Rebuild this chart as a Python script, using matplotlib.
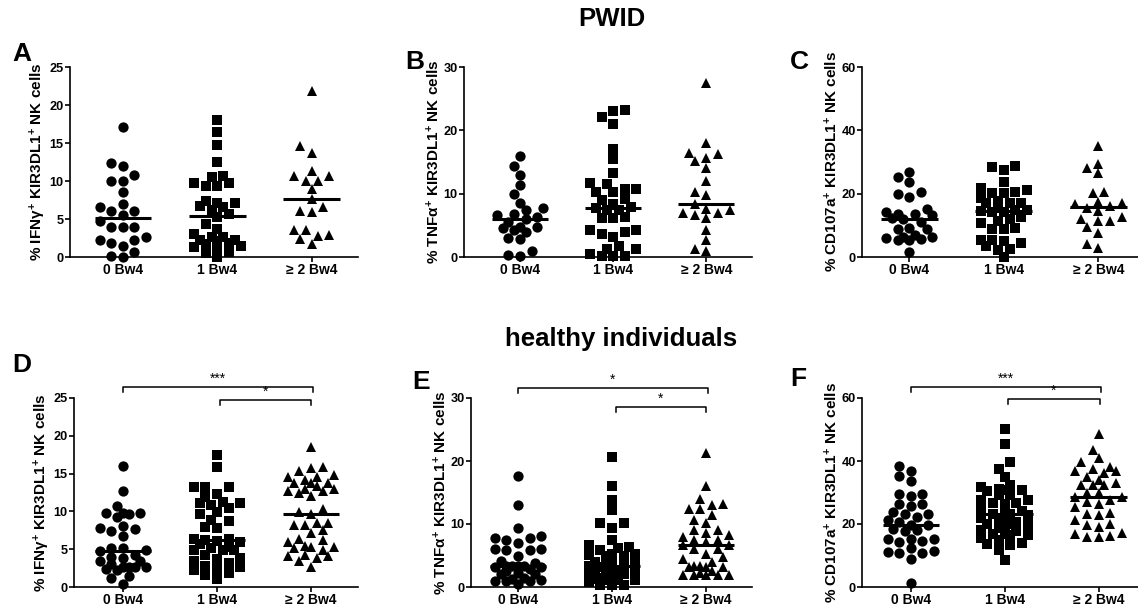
import numpy as np
import matplotlib
matplotlib.use("Agg")
import matplotlib.pyplot as plt

plt.rcParams['font.family'] = ['Liberation Sans', 'DejaVu Sans']
plt.rcParams['font.weight'] = 'bold'
plt.rcParams['mathtext.fontset'] = 'custom'
plt.rcParams['mathtext.rm'] = 'Liberation Sans:bold'
plt.rcParams['mathtext.it'] = 'Liberation Sans:bold'
plt.rcParams['mathtext.bf'] = 'Liberation Sans:bold'

groups = ['0 Bw4', '1 Bw4', '\u2265 2 Bw4']

# PWID
ifn_pwid_0 = [17.1, 12.4, 12.0, 10.8, 10.0, 10.0, 8.6, 7.0, 6.6, 6.1, 6.1, 5.5, 4.8, 4.0, 4.0, 4.0,
              2.6, 2.3, 2.3, 1.9, 1.4, 0.7, 0.1, 0.0]
ifn_pwid_1 = [18.0, 16.4, 14.7, 12.5, 10.7, 10.5, 9.8, 9.7, 9.3, 9.3, 7.4, 7.1, 7.1, 6.7, 6.6, 6.2,
              5.6, 5.2, 4.4, 3.7, 3.0, 2.6, 2.6, 2.3, 2.2, 2.1, 1.8, 1.7, 1.5, 1.3, 1.3, 0.7, 0.5, 0.0]
ifn_pwid_2 = [21.8, 14.6, 13.7, 11.3, 10.7, 10.7, 10.0, 10.0, 8.9, 7.6, 6.6, 6.0, 5.9, 3.6, 3.5,
              2.9, 2.7, 2.4, 1.7]

tnf_pwid_0 = [16.0, 14.4, 13.0, 11.4, 10.0, 8.6, 7.7, 7.4, 6.8, 6.6, 6.3, 6.0, 5.5, 4.8, 4.8, 4.6,
              4.2, 4.0, 3.0, 2.8, 1.0, 0.3, 0.1]
tnf_pwid_1 = [23.2, 23.1, 22.1, 21.0, 17.0, 15.4, 13.2, 11.7, 11.5, 10.7, 10.7, 10.3, 10.3, 9.2, 9.0,
              8.3, 7.9, 7.7, 7.5, 7.4, 6.3, 6.1, 6.1, 4.3, 4.2, 4.0, 3.6, 3.1, 1.8, 1.2, 1.2, 0.5,
              0.1, 0.1, 0.1]
tnf_pwid_2 = [27.5, 18.0, 16.4, 16.3, 15.6, 15.2, 14.1, 12.0, 10.3, 9.8, 8.3, 7.6, 7.4, 7.0, 6.9,
              6.6, 6.2, 4.3, 2.7, 1.2, 1.0]

cd_pwid_0 = [26.9, 25.4, 23.6, 20.4, 19.8, 19.0, 15.3, 14.3, 13.7, 13.5, 13.2, 12.2, 11.9, 11.1,
             9.3, 8.7, 8.7, 7.0, 6.3, 6.3, 6.0, 5.8, 5.5, 5.5, 1.6]
cd_pwid_1 = [28.7, 28.5, 27.5, 23.8, 21.9, 21.1, 20.4, 20.3, 20.1, 18.5, 17.7, 17.2, 16.9, 16.9,
             15.5, 14.8, 14.8, 14.6, 14.3, 14.3, 12.7, 12.0, 11.4, 10.8, 9.3, 9.0, 8.8, 5.5, 5.3,
             5.1, 4.4, 3.5, 2.6, 2.3, 0.0]
cd_pwid_2 = [35.2, 29.4, 28.0, 26.4, 20.4, 20.1, 17.4, 17.1, 16.7, 16.1, 15.5, 14.6, 12.7, 12.1,
             11.4, 11.4, 9.5, 7.7, 4.2, 3.0]

# healthy individuals
ifn_hi_0 = [16.0, 12.7, 10.7, 9.8, 9.8, 9.8, 9.6, 9.2, 8.1, 7.8, 7.7, 7.4, 6.8, 5.2, 5.2, 4.9, 4.7,
            4.2, 4.0, 3.9, 3.5, 3.4, 3.0, 2.6, 2.6, 2.6, 2.6, 2.4, 2.2, 1.5, 1.2, 0.4]
ifn_hi_1 = [17.4, 15.9, 13.2, 13.2, 13.2, 12.3, 11.9, 11.2, 11.1, 11.1, 10.9, 10.5, 9.9, 9.6, 8.9,
            8.7, 7.9, 7.8, 6.3, 6.3, 6.2, 6.1, 6.0, 5.7, 5.3, 5.1, 4.9, 4.9, 4.9, 4.2, 3.9, 3.7,
            3.4, 3.2, 2.8, 2.6, 2.4, 2.2, 1.9, 1.6, 1.1]
ifn_hi_2 = [18.5, 15.9, 15.7, 15.3, 14.8, 14.6, 14.6, 14.2, 13.8, 13.8, 13.7, 13.4, 13.0, 13.0, 12.7,
            12.7, 12.4, 12.1, 10.3, 9.9, 9.6, 8.5, 8.5, 8.2, 8.2, 7.5, 7.2, 6.3, 6.2, 6.0, 5.4,
            5.3, 5.3, 5.1, 4.9, 4.2, 4.1, 4.1, 3.9, 3.5, 2.7]

tnf_hi_0 = [17.6, 13.0, 9.4, 8.1, 7.8, 7.8, 7.5, 7.0, 6.0, 6.0, 5.8, 5.8, 4.9, 4.2, 3.8, 3.4, 3.4,
            3.3, 3.3, 3.1, 3.1, 2.8, 2.5, 2.2, 2.0, 2.0, 1.5, 1.3, 1.1, 1.0, 1.0, 1.0, 0.5]
tnf_hi_1 = [20.7, 16.1, 13.8, 12.2, 10.2, 10.1, 9.4, 7.4, 6.6, 6.3, 6.2, 5.9, 5.3, 5.3, 5.1, 5.0,
            4.9, 4.0, 3.8, 3.7, 3.4, 3.4, 3.4, 3.2, 2.8, 2.5, 2.5, 2.4, 2.4, 2.1, 2.0, 1.5, 1.3,
            1.3, 1.1, 1.1, 1.1, 0.8, 0.3, 0.3, 0.3]
tnf_hi_2 = [21.2, 16.1, 14.0, 13.2, 13.0, 12.4, 12.4, 11.5, 10.6, 10.1, 9.1, 9.0, 8.5, 8.2, 7.9,
            7.4, 7.4, 7.1, 6.6, 6.6, 6.1, 6.1, 5.2, 4.8, 4.4, 3.9, 3.4, 3.4, 3.2, 3.2, 3.1, 2.6,
            2.2, 1.9, 1.9, 1.9, 1.9, 1.9]

cd_hi_0 = [38.3, 36.8, 35.1, 33.7, 29.6, 29.6, 28.9, 26.5, 26.5, 25.7, 23.8, 23.3, 23.3, 22.2, 21.4,
           20.6, 19.7, 19.6, 18.5, 18.0, 17.8, 15.3, 15.3, 15.3, 14.6, 14.3, 12.5, 11.4, 11.1,
           10.8, 10.8, 8.8, 1.3]
cd_hi_1 = [50.3, 45.3, 39.7, 37.6, 34.9, 32.3, 31.7, 31.2, 30.9, 30.7, 30.5, 29.1, 29.1, 27.5, 27.5,
           26.8, 26.8, 26.5, 24.9, 24.0, 23.3, 23.3, 23.1, 22.8, 22.0, 21.7, 20.6, 20.1, 20.1,
           19.9, 19.6, 18.8, 18.0, 17.8, 16.9, 16.9, 16.4, 16.4, 15.5, 14.8, 14.0, 13.5, 13.2,
           11.6, 8.7]
cd_hi_2 = [48.7, 43.6, 41.1, 39.7, 38.1, 37.6, 36.8, 36.8, 36.2, 34.9, 33.9, 33.0, 32.3, 32.3, 32.3,
           29.8, 29.8, 28.6, 28.6, 27.5, 27.0, 26.5, 25.4, 23.5, 23.3, 22.8, 21.2, 20.1, 19.6,
           19.0, 17.2, 16.9, 16.1, 15.9, 15.9]

ylab_ifn = r'% IFN$\gamma^{+}$ KIR3DL1$^{+}$ NK cells'
ylab_tnf = r'% TNF$\alpha^{+}$ KIR3DL1$^{+}$ NK cells'
ylab_cd = r'% CD107a$^{+}$ KIR3DL1$^{+}$ NK cells'

W, H = 1138, 612
fig = plt.figure(figsize=(W / 100, H / 100), dpi=100)

markers = ['o', 's', '^']
msizes = [7.4, 6.6, 7.8]


def swarm(vals, ppu_y, ppu_x=95.0, step_px=11.6, dist_px=9.2):
    # greedy beeswarm on half-column slots, at most +-2 columns wide
    vals = np.asarray(vals, dtype=float)
    offs = np.zeros(len(vals))
    placed = []
    cands = [0, -1, 1, -2, 2, -3, 3, -4, 4]
    for i in np.argsort(vals):
        y = vals[i] * ppu_y
        best, bestd = 0, -1.0
        for k in cands:
            x = k * step_px / 2
            d = min([np.hypot(x - px, y - py) for px, py in placed] + [1e9])
            if d >= dist_px:
                best = k
                break
            if d > bestd + 0.5:
                best, bestd = k, d
        placed.append((best * step_px / 2, y))
        offs[i] = best * step_px / 2 / ppu_x
    return offs


def panel(box, xlim, ymax, yticks, ylab, series, letter, letter_xy, brackets=()):
    left, right, bottom, top = box
    ax = fig.add_axes([left / W, 1 - bottom / H, (right - left) / W, (bottom - top) / H])
    ppu_y = (bottom - top) / ymax
    ppu_x = (right - left) / (xlim[1] - xlim[0])
    for i, vals in enumerate(series):
        offs = swarm(vals, ppu_y, ppu_x)
        ax.plot(i + offs, vals, linestyle='none', marker=markers[i], markersize=msizes[i],
                color='black', markeredgewidth=0, clip_on=False, zorder=2)
        med = np.median(vals)
        ax.hlines(med, i - 0.3, i + 0.3, color='black', lw=2.2, zorder=3)
    ax.set_xlim(*xlim)
    ax.set_ylim(0, ymax)
    ax.set_yticks(yticks)
    ax.set_xticks([0, 1, 2])
    ax.set_xticklabels(groups, fontsize=10, fontweight='bold')
    for t in ax.get_yticklabels():
        t.set_fontsize(9.2)
        t.set_fontweight('bold')
    ax.tick_params(direction='out', length=3.5, width=1.2, pad=1)
    ax.spines['top'].set_visible(False)
    ax.spines['right'].set_visible(False)
    ax.spines['left'].set_linewidth(1.2)
    ax.spines['bottom'].set_linewidth(1.2)
    ax.set_ylabel(ylab, fontsize=11, fontweight='bold', labelpad=1)
    fig.text(letter_xy[0] / W, 1 - letter_xy[1] / H, letter, fontsize=19, fontweight='bold',
             ha='left', va='top')
    for x0, x1, y, drop, lab in brackets:
        ax.plot([x0, x0, x1, x1], [y - drop, y, y, y - drop], color='black', lw=1.1,
                clip_on=False)
        ax.text((x0 + x1) / 2, y + drop * 0.2, lab, ha='center', va='bottom', fontsize=10,
                fontweight='normal')
    return ax


panel((70, 358, 257, 67), (-0.56, 2.49), 25, [0, 5, 10, 15, 20, 25], ylab_ifn,
      [ifn_pwid_0, ifn_pwid_1, ifn_pwid_2], 'A', (12, 42))
panel((464, 752, 257, 67), (-0.6, 2.49), 30, [0, 10, 20, 30], ylab_tnf,
      [tnf_pwid_0, tnf_pwid_1, tnf_pwid_2], 'B', (405, 50))
panel((862, 1138, 257, 67), (-0.5, 2.42), 60, [0, 20, 40, 60], ylab_cd,
      [cd_pwid_0, cd_pwid_1, cd_pwid_2], 'C', (790, 50))

panel((74, 358, 587, 398), (-0.52, 2.5), 25, [0, 5, 10, 15, 20, 25], ylab_ifn,
      [ifn_hi_0, ifn_hi_1, ifn_hi_2], 'D', (12, 353),
      [(0, 2.02, 26.45, 0.66, '***'), (1.03, 2.0, 24.7, 0.66, '*')])
panel((471, 752, 587, 398), (-0.5, 2.49), 30, [0, 10, 20, 30], ylab_tnf,
      [tnf_hi_0, tnf_hi_1, tnf_hi_2], 'E', (412, 370),
      [(0, 2.02, 31.6, 0.85, '*'), (1.04, 2.0, 28.6, 0.85, '*')])
panel((862, 1138, 587, 398), (-0.52, 2.42), 60, [0, 20, 40, 60], ylab_cd,
      [cd_hi_0, cd_hi_1, cd_hi_2], 'F', (790, 367),
      [(0, 2.03, 63.5, 1.6, '***'), (1.04, 2.01, 59.7, 1.6, '*')])

fig.text(612 / W, 1 - 26 / H, 'PWID', ha='center', va='baseline', fontsize=18.5,
         fontweight='bold')
fig.text(621 / W, 1 - 346 / H, 'healthy individuals', ha='center', va='baseline', fontsize=18.5,
         fontweight='bold')

fig.savefig('out.png', dpi=100)
